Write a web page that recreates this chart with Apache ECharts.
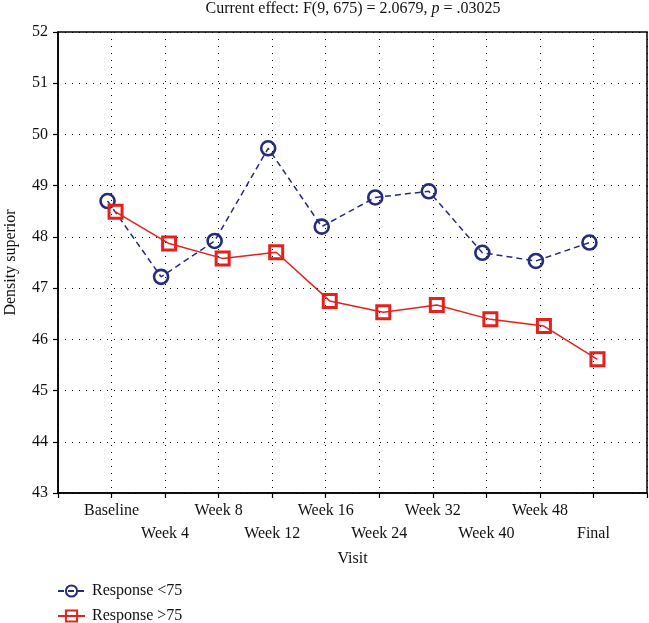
<!DOCTYPE html>
<html>
<head>
<meta charset="utf-8">
<script src="https://cdn.jsdelivr.net/npm/echarts@6/dist/echarts.min.js"></script>
<style>html,body{margin:0;padding:0;background:#fff;}#c{width:649px;height:623px;}</style>
</head>
<body>
<div id="c"></div>
<script>
var categories = ['Baseline','Week 4','Week 8','Week 12','Week 16','Week 24','Week 32','Week 40','Week 48','Final'];
var responseBelow75 = [48.70, 47.22, 47.92, 49.73, 48.20, 48.77, 48.89, 47.69, 47.53, 47.89];
var responseAbove75 = [48.49, 47.87, 47.58, 47.70, 46.75, 46.53, 46.67, 46.39, 46.26, 45.61];
var seriesNames = ['Response <75', 'Response >75'];
var yTicks = [43, 44, 45, 46, 47, 48, 49, 50, 51, 52];

var FONT = '"Liberation Serif", "DejaVu Serif", serif';
var FS = 16;
var BLUE = '#262c7c';
var RED = '#e3221c';
var JIT = 0.075;

function pts(vals, off) {
  return vals.map(function (v, i) { return [i + 1 + off, v]; });
}

var legendText = {fontFamily: FONT, fontSize: FS, color: '#111', padding: [0, 0, 0, 2]};

var chart = echarts.init(document.getElementById('c'), null, {renderer: 'canvas'});
chart.setOption({
  animation: false,
  backgroundColor: '#fff',
  textStyle: {fontFamily: FONT},
  graphic: [{
    type: 'text',
    x: 353, y: 1,
    style: {
      text: '{n|Current effect: F(9, 675) = 2.0679, }{i|p}{n| = .03025}',
      align: 'center',
      textAlign: 'center',
      rich: {
        n: {fontFamily: FONT, fontSize: FS, fill: '#111'},
        i: {fontFamily: FONT, fontSize: FS, fontStyle: 'italic', fill: '#111'}
      }
    }
  }],
  grid: {
    left: 58, right: 2, top: 32, bottom: 130,
    containLabel: false, outerBoundsMode: 'none',
    show: true, borderColor: '#000', borderWidth: 1.5, backgroundColor: 'transparent'
  },
  legend: [{
    left: 52, top: 578,
    itemWidth: 27, itemHeight: 14,
    textStyle: legendText,
    data: [seriesNames[0]]
  }, {
    left: 52, top: 603,
    itemWidth: 27, itemHeight: 14,
    textStyle: legendText,
    data: [seriesNames[1]]
  }],
  xAxis: {
    type: 'value', min: 0, max: 11, interval: 1,
    name: 'Visit', nameLocation: 'middle', nameGap: 58,
    nameTextStyle: {fontFamily: FONT, fontSize: FS, color: '#111'},
    axisLine: {show: true, lineStyle: {color: '#000', width: 1.5}},
    axisTick: {show: true, length: 5, lineStyle: {color: '#000', width: 1.2}},
    axisLabel: {
      margin: 6, fontFamily: FONT, fontSize: FS, color: '#111', lineHeight: 23,
      showMinLabel: true, showMaxLabel: true,
      formatter: function (v) {
        var i = Math.round(v) - 1;
        if (i < 0 || i >= categories.length || Math.abs(v - Math.round(v)) > 1e-6) return '';
        return (i % 2 === 1) ? '\n' + categories[i] : categories[i];
      }
    },
    splitLine: {show: true, lineStyle: {color: '#000', type: [1, 6], width: 1}}
  },
  yAxis: {
    type: 'value', min: yTicks[0], max: yTicks[yTicks.length - 1], interval: 1,
    name: 'Density superior', nameLocation: 'middle', nameGap: 39,
    nameTextStyle: {fontFamily: FONT, fontSize: FS, color: '#111'},
    axisLine: {show: true, lineStyle: {color: '#000', width: 1.5}},
    axisTick: {show: true, length: 5, lineStyle: {color: '#000', width: 1.2}},
    axisLabel: {margin: 10, fontFamily: FONT, fontSize: FS, color: '#111'},
    splitLine: {show: true, lineStyle: {color: '#000', type: [1, 6], width: 1}}
  },
  series: [{
    name: seriesNames[0],
    type: 'line',
    data: pts(responseBelow75, -JIT),
    symbol: 'circle', symbolSize: 14,
    itemStyle: {color: 'rgba(255,255,255,0)', borderColor: BLUE, borderWidth: 2.6},
    lineStyle: {color: BLUE, width: 1.5, type: [6, 4]},
    z: 2
  }, {
    name: seriesNames[1],
    type: 'line',
    data: pts(responseAbove75, JIT),
    symbol: 'rect', symbolSize: 13,
    itemStyle: {color: 'rgba(255,255,255,0)', borderColor: RED, borderWidth: 3},
    lineStyle: {color: RED, width: 1.5},
    z: 3
  }]
});
</script>
</body>
</html>
